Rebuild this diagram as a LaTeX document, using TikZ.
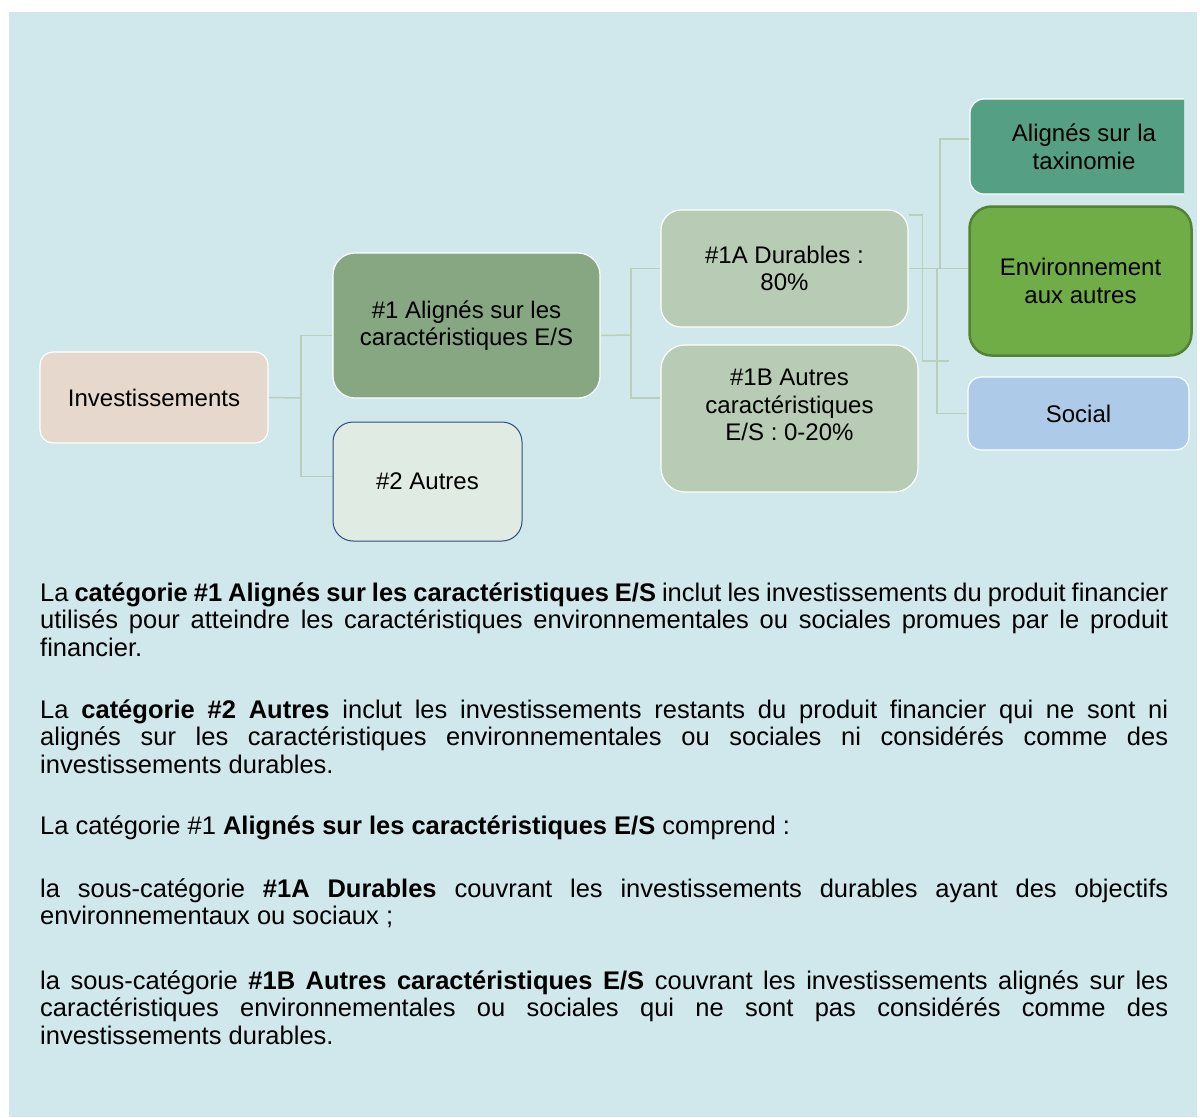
\documentclass[tikz,border=0pt]{standalone}
\usepackage{fontspec}
\setmainfont{Liberation Sans}
\pgfdeclarelayer{bglayer}
\pgfdeclarelayer{connlayer}
\pgfsetlayers{bglayer,connlayer,main}
\definecolor{bgcol}{HTML}{D0E8EC}
\definecolor{invcol}{HTML}{E7D8CD}
\definecolor{bonecol}{HTML}{87A782}
\definecolor{btwocol}{HTML}{E0EBE3}
\definecolor{navycol}{HTML}{2F4B7C}
\definecolor{durcol}{HTML}{B8CBB4}
\definecolor{taxcol}{HTML}{55A085}
\definecolor{envcol}{HTML}{70AD47}
\definecolor{envborder}{HTML}{548235}
\definecolor{soccol}{HTML}{ADCBE8}
\definecolor{conncol}{HTML}{B9CEBB}
\newcommand\boxfont{\fontsize{24}{27.6}\selectfont}
\newcommand\bodyfont{\fontsize{25.5}{27.7}\selectfont}
\newcommand\jline[1]{\makebox[1128pt][s]{#1}}
\tikzset{
  box/.style={draw=white, line width=1.2pt, rounded corners=14pt, align=center,
              inner sep=0pt, font=\boxfont, text=black,
              execute at begin node={\spaceskip=0pt\xspaceskip=0pt}},
  conn/.style={draw=conncol, line width=1.5pt},
  para/.style={anchor=base west, inner sep=0pt, text width=1128pt, align=left,
               font=\bodyfont, text=black,
               execute at begin node={\spaceskip=0pt\xspaceskip=0pt}}
}
\begin{document}
\begin{tikzpicture}[x=1pt, y=-1pt]
\useasboundingbox (0,0) rectangle (1200,1117);
\begin{pgfonlayer}{bglayer}
  \fill[white] (0,0) rectangle (1200,1117);
  \fill[bgcol] (9,12) rectangle (1197,1117);
\end{pgfonlayer}

% boxes
\node[box, fill=invcol, minimum width=228pt, minimum height=91pt, rounded corners=13pt] (inv) at (154,397.5) {Investissements};
\node[box, fill=bonecol, minimum width=267pt, minimum height=145pt, rounded corners=22pt] (b1) at (466.5,325.5) {\#1 Alignés sur les\\caractéristiques E/S};
\node[box, draw=navycol, line width=1pt, fill=btwocol, minimum width=189pt, minimum height=119pt, rounded corners=20pt] (b2) at (427.5,481.5) {\#2 Autres};
\node[box, fill=durcol, minimum width=247pt, minimum height=117pt, rounded corners=20pt] (b1A) at (784.5,268.5) {\#1A Durables :\\80\%};
\node[box, fill=durcol, minimum width=257pt, minimum height=147pt, rounded corners=24pt] (b1B) at (789.5,418.5) {};
\node[font=\boxfont, align=center, inner sep=0pt, execute at begin node={\spaceskip=0pt\xspaceskip=0pt}] (b1Btext) at (789.5,405) {\#1B Autres\\caractéristiques\\E/S : 0-20\%};
\begin{scope}
  \clip (0,0) rectangle (1184,1117);
  \node[box, fill=taxcol, minimum width=228pt, minimum height=95pt, rounded corners=14pt] (tax) at (1084,146.5) {Alignés sur la\\taxinomie};
\end{scope}
\node[box, draw=envborder, line width=2.5pt, fill=envcol, minimum width=222pt, minimum height=149pt, rounded corners=22pt] (env) at (1080.5,281) {Environnement\\aux autres};
\node[box, fill=soccol, minimum width=221pt, minimum height=73pt, rounded corners=13pt] (soc) at (1078.5,413.5) {Social};

% connectors
\coordinate (j1) at (301,398);
\coordinate (j2) at (631,335);
\coordinate (j3) at (940,269);
\coordinate (j4) at (937,269);
\coordinate (s1) at (949,361);
\begin{pgfonlayer}{connlayer}
  \draw[conn] (inv.east) -- (j1);
  \draw[conn] ([yshift=-10pt]b1.west) -| (j1);
  \draw[conn] (j1) |- ([yshift=5pt]b2.west);
  \draw[conn] ([yshift=-10pt]b1.east) -- (j2);
  \draw[conn] (b1A.west) -| (j2);
  \draw[conn] (j2) |- ([yshift=20.5pt]b1B.west);
  \draw[conn] (b1A.east) -- (b1A.east -| env.west);
  \draw[conn] (j3) |- ([yshift=7.5pt]tax.west);
  \draw[conn] (j4) |- (soc.west);
  \draw[conn] ([yshift=53.5pt]b1A.east) -- ++(14,0) |- (s1);
\end{pgfonlayer}

% text
\node[para] (p1) at (40,601) {\jline{La \textbf{catégorie \#1 Alignés sur les caractéristiques E/S} inclut les investissements du produit financier}\\
\jline{utilisés pour atteindre les caractéristiques environnementales ou sociales promues par le produit}\\
financier.};
\node[para] (p2) at (40,718) {\jline{La \textbf{catégorie \#2 Autres} inclut les investissements restants du produit financier qui ne sont ni}\\
\jline{alignés sur les caractéristiques environnementales ou sociales ni considérés comme des}\\
investissements durables.};
\node[para] (p3) at (40,834) {La catégorie \#1 \textbf{Alignés sur les caractéristiques E/S} comprend :};
\node[para] (p4) at (40,897) {\jline{la sous-catégorie \textbf{\#1A Durables} couvrant les investissements durables ayant des objectifs}\\
environnementaux ou sociaux ;};
\node[para] (p5) at (40,989) {\jline{la sous-catégorie \textbf{\#1B Autres caractéristiques E/S} couvrant les investissements alignés sur les}\\
\jline{caractéristiques environnementales ou sociales qui ne sont pas considérés comme des}\\
investissements durables.};
\end{tikzpicture}
\end{document}
